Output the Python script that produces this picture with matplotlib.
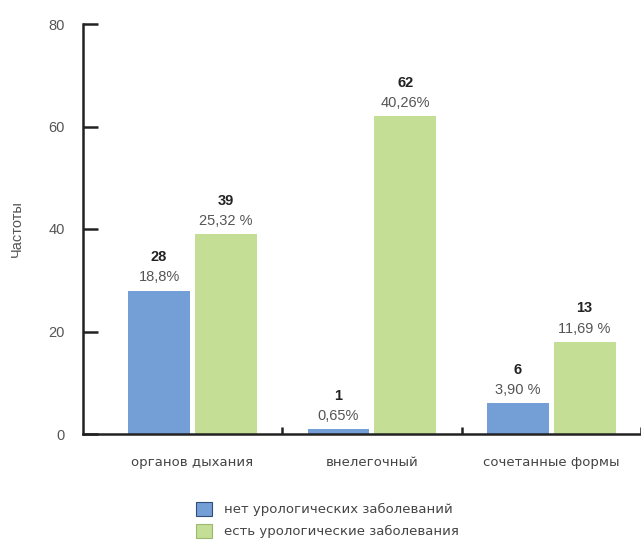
import matplotlib.pyplot as plt
from matplotlib.patches import Patch
import numpy as np

plt.rcParams['font.family'] = ['Liberation Sans Narrow', 'Liberation Sans', 'DejaVu Sans']

# data
categories = ['органов дыхания', 'внелегочный', 'сочетанные формы']
series_names = ['нет урологических заболеваний', 'есть урологические заболевания']
no_uro = [28, 1, 6]          # bar heights (blue)
yes_uro = [39, 62, 18]       # bar heights (green), last bar drawn at ~18
no_counts = ['28', '1', '6']
yes_counts = ['39', '62', '13']
no_pct = ['18,8%', '0,65%', '3,90 %']
yes_pct = ['25,32 %', '40,26%', '11,69 %']

blue = '#739ed6'
green = '#c4de96'
txt = '#444444'
wide = ['DejaVu Sans']

fig = plt.figure(figsize=(6.41, 5.49), dpi=100)
ax = fig.add_axes([83 / 641, 115 / 549, 558 / 641, 410 / 549])

x = np.arange(len(categories))
w = 0.344
off = 0.186
b1 = ax.bar(x - off, no_uro, w, color=blue)
b2 = ax.bar(x + off, yes_uro, w, color=green)

for bars, counts, pcts in [(b1, no_counts, no_pct), (b2, yes_counts, yes_pct)]:
    for rect, c, p in zip(bars, counts, pcts):
        cx = rect.get_x() + rect.get_width() / 2
        top = rect.get_height()
        ax.annotate(p, (cx, top), xytext=(0, 9.5), textcoords='offset points',
                    ha='center', va='center', fontsize=10.5, color='#555555')
        ax.annotate(c, (cx, top), xytext=(0, 24), textcoords='offset points',
                    ha='center', va='center', fontsize=10.5, fontweight='bold', color='#222222')

ax.set_xlim(-0.61, 2.49)
ax.set_ylim(0, 80)
ax.set_yticks([0, 20, 40, 60, 80])
ax.set_xticks(x)
ax.set_xticklabels(categories, family=wide)
ax.set_xticks([0.5, 1.5, 2.5], minor=True)

for s in ['top', 'right']:
    ax.spines[s].set_visible(False)
for s in ['left', 'bottom']:
    ax.spines[s].set_linewidth(1.8)
    ax.spines[s].set_color('#222222')

ax.tick_params(axis='y', direction='in', length=11, width=1.8, pad=13,
               labelsize=10.5, labelcolor='#555555', color='#222222')
ax.tick_params(axis='x', which='major', length=0, pad=16, labelsize=9.5, labelcolor=txt)
ax.tick_params(axis='x', which='minor', direction='in', length=5, width=1.8, color='#222222')

ax.set_ylabel('Частоты', fontsize=10.5, color='#555555', labelpad=18)

handles = [Patch(facecolor=blue, edgecolor='#2f4f7a', linewidth=0.8),
           Patch(facecolor=green, edgecolor='#9ab870', linewidth=0.8)]
fig.legend(handles, series_names, loc='upper left', bbox_to_anchor=(196 / 641, 1 - 502 / 549),
           frameon=False, borderpad=0, borderaxespad=0, prop={'family': wide, 'size': 9.5},
           handlelength=1.25, handleheight=1.25, labelspacing=0.55, handletextpad=0.9,
           labelcolor=txt)

fig.savefig('out.png', dpi=100)
